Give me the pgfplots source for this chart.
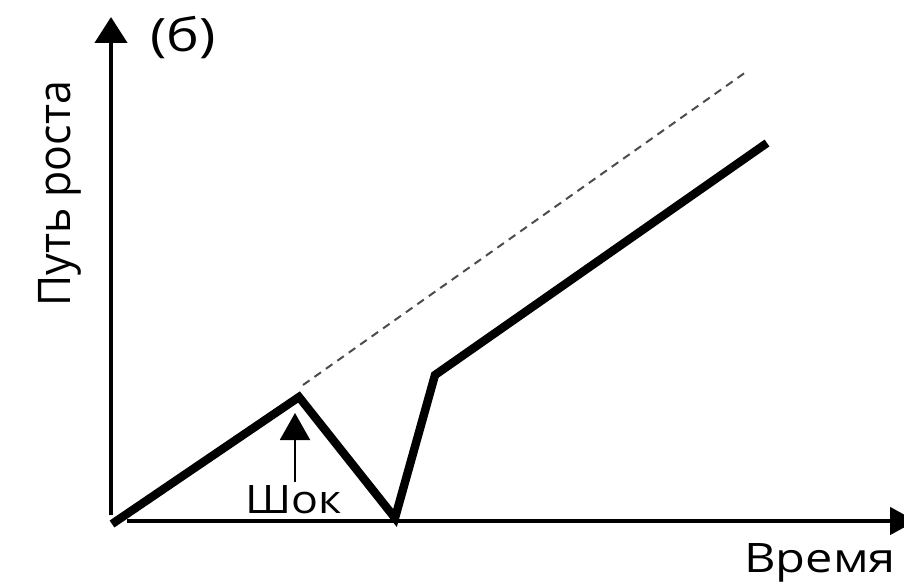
\documentclass[border=0pt]{standalone}
\usepackage{fontspec}
\setmainfont{Open Sans}
\usepackage{graphicx}
\usepackage{pgfplots}
\pgfplotsset{compat=1.18}
\usetikzlibrary{arrows.meta}
\begin{document}
\begin{tikzpicture}
\begin{axis}[at={(0,0)},anchor=south west,scale only axis,
  width=452pt,height=292pt,xmin=0,xmax=904,ymin=0,ymax=584,
  hide axis,clip=false]
% axes
\addplot[line width=2.3pt,-{Triangle[length=13pt,width=16pt]}] coordinates {(111,69) (111,567)};
\addplot[line width=2.3pt,-{Triangle[length=13pt,width=13.5pt]}] coordinates {(127,63) (916,63)};
% trend before the shock
\addplot[line width=1pt,black!70,dash pattern=on 4pt off 3pt] coordinates {(303,199) (746,512)};
% growth path
\addplot[line width=4.2pt,line join=miter] coordinates {(112,60) (299,187) (395,66) (435,209) (767,441)};
% shock arrow
\addplot[line width=1pt,-{Triangle[length=13.5pt,width=15pt]}] coordinates {(295,102) (295,171)};
\node[anchor=base west,inner sep=0,font=\fontsize{19.6pt}{23pt}\selectfont] at (245,71) {\scalebox{1.14}[1]{Шок}};
\node[anchor=base west,inner sep=0,font=\fontsize{20.3pt}{24pt}\selectfont] at (744,12) {\scalebox{1.2}[1]{Время}};
\node[anchor=base west,inner sep=0,font=\fontsize{23pt}{27pt}\selectfont] at (150,532) {\scalebox{1.2}[1]{(б)}};
\node[rotate=90,anchor=base west,inner sep=0,font=\fontsize{21.4pt}{25pt}\selectfont] at (70,277) {\scalebox{1}[1.05]{Путь роста}};
\end{axis}
\pgfresetboundingbox
\path (0,0) rectangle (452pt,292pt);
\end{tikzpicture}
\end{document}
